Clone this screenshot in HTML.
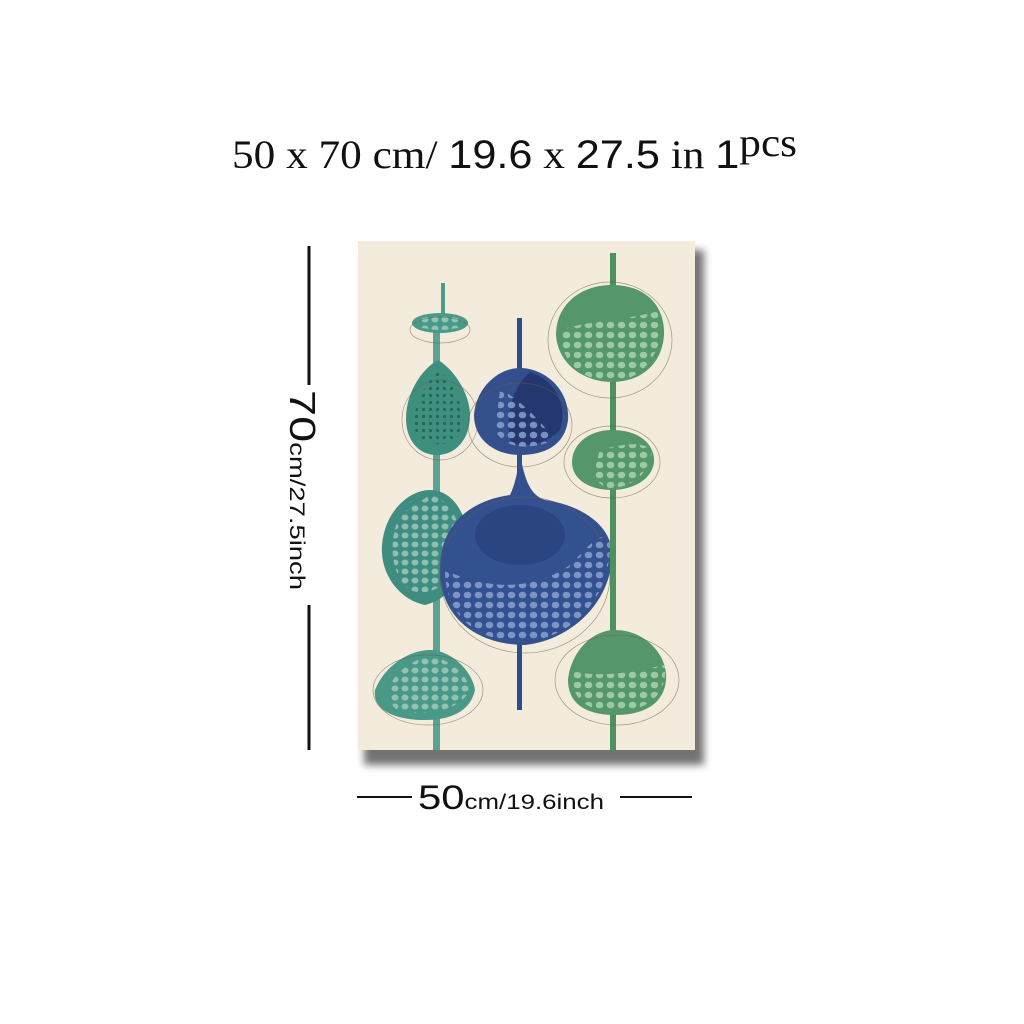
<!DOCTYPE html>
<html><head><meta charset="utf-8"><style>
html,body{margin:0;padding:0;background:#fff;width:1024px;height:1024px;overflow:hidden}
svg{display:block}
</style></head><body>
<svg width="1024" height="1024" viewBox="0 0 1024 1024">
<defs>
<pattern id="dotsL" width="10" height="9" patternUnits="userSpaceOnUse"><ellipse cx="5" cy="4.5" rx="3.5" ry="3" fill="#a9d0c0" opacity="0.75"/></pattern>
<pattern id="dotsB" width="11" height="10" patternUnits="userSpaceOnUse"><ellipse cx="5.5" cy="5" rx="3.8" ry="3.3" fill="#8fa6d4" opacity="0.8"/></pattern>
<pattern id="dotsG" width="11" height="10" patternUnits="userSpaceOnUse"><ellipse cx="5.5" cy="5" rx="3.8" ry="3.3" fill="#a8d2ad" opacity="0.85"/></pattern>
<pattern id="dotsD" width="7" height="7" patternUnits="userSpaceOnUse"><circle cx="3.5" cy="3.5" r="1.6" fill="#23695a"/></pattern>
<filter id="blur" x="-10%" y="-10%" width="120%" height="120%"><feGaussianBlur stdDeviation="4"/></filter>
</defs>
<text x="232" y="168" font-family="Liberation Serif, serif" font-size="40" fill="#111" textLength="565" lengthAdjust="spacingAndGlyphs">50 x 70 cm/ <tspan font-family="Liberation Sans, sans-serif">19.6</tspan> x <tspan font-family="Liberation Sans, sans-serif">27.5</tspan> in <tspan font-family="Liberation Sans, sans-serif">1</tspan><tspan dy="-12">pcs</tspan></text>
<g>
<line x1="309" y1="246" x2="309" y2="385" stroke="#111" stroke-width="3"/>
<line x1="309" y1="605" x2="309" y2="750" stroke="#111" stroke-width="3"/>
<text transform="translate(290,390) rotate(90)" font-family="Liberation Sans, sans-serif" font-size="36" fill="#111" textLength="200" lengthAdjust="spacingAndGlyphs">70<tspan font-size="21">cm/27.5inch</tspan></text>
</g>
<g>
<line x1="357" y1="797" x2="412" y2="797" stroke="#111" stroke-width="2"/>
<line x1="620" y1="797" x2="692" y2="797" stroke="#111" stroke-width="2"/>
<text x="418" y="809" font-family="Liberation Sans, sans-serif" font-size="34" fill="#111" textLength="186" lengthAdjust="spacingAndGlyphs">50<tspan font-size="21">cm/19.6inch</tspan></text>
</g>
<rect x="364" y="250" width="340" height="515" fill="#444" opacity="0.75" filter="url(#blur)"/>
<g>
<rect x="358" y="241" width="337" height="509" fill="#f3ecdc"/>
<rect x="441" y="283" width="4" height="45" fill="#4f9c8d"/>
<rect x="433" y="330" width="7" height="420" fill="#5aa393"/>
<ellipse cx="440" cy="323" rx="28" ry="10" fill="#4a9a8a"/>
<ellipse cx="440" cy="323" rx="24" ry="7" fill="url(#dotsL)"/>
<path d="M438 360 C455 370 470 395 470 415 C470 440 455 455 437 455 C418 455 406 440 406 418 C406 395 420 370 438 360Z" fill="#3f8f7f"/>
<path d="M438 370 C450 380 465 400 462 430 C455 448 425 450 415 430 C410 410 425 385 438 370Z" fill="url(#dotsD)"/>
<path d="M430 490 C450 490 468 510 468 545 C468 580 445 600 425 605 C400 600 380 575 382 545 C385 510 410 490 430 490Z" fill="#3f8c80"/>
<path d="M430 495 C450 500 462 520 460 550 C455 585 430 598 410 590 C390 575 388 540 400 515Z" fill="url(#dotsL)"/>
<path d="M430 650 C450 650 472 670 475 690 C470 712 450 720 425 720 C395 720 372 710 375 690 C385 665 410 650 430 650Z" fill="#4a9888"/>
<path d="M430 655 C450 660 468 675 470 690 C460 710 430 716 400 712 C380 700 385 670 430 655Z" fill="url(#dotsL)"/>
<rect x="517" y="318" width="5" height="80" fill="#2b4f8a"/>
<rect x="517" y="450" width="5" height="260" fill="#2b4f8a"/>
<path d="M520 368 C545 368 570 390 568 420 C565 445 545 455 520 455 C495 455 474 440 474 415 C476 388 498 368 520 368Z" fill="#33508c"/>
<path d="M530 372 C555 380 568 405 560 430 C545 445 520 450 510 440 C505 410 515 385 530 372Z" fill="#24376e"/>
<path d="M500 390 C515 395 540 420 555 440 C530 450 505 450 495 430Z" fill="url(#dotsB)"/>
<path d="M520 455 C525 480 530 495 545 500 C580 505 615 525 612 560 C608 605 570 640 525 645 C480 645 440 620 440 570 C440 520 475 500 510 495 C515 485 518 470 520 455Z" fill="#34518f"/>
<ellipse cx="520" cy="535" rx="45" ry="30" fill="#26407a" opacity="0.7"/>
<path d="M445 570 C465 580 520 600 570 565 C590 545 600 530 610 540 C612 600 570 640 520 642 C470 640 445 610 445 570Z" fill="url(#dotsB)"/>
<rect x="610" y="253" width="6" height="497" fill="#4f9060"/>
<path d="M612 285 C645 285 665 305 664 335 C662 365 640 382 612 382 C585 382 558 365 556 335 C556 305 580 285 612 285Z" fill="#55976a"/>
<path d="M560 330 C590 320 630 320 662 310 C665 350 645 380 612 382 C580 380 560 360 560 330Z" fill="url(#dotsG)"/>
<path d="M612 430 C640 430 655 445 654 462 C652 480 632 490 612 490 C590 490 572 480 572 462 C572 445 588 430 612 430Z" fill="#55976a"/>
<path d="M600 450 C620 445 640 440 652 450 C650 475 630 488 610 488 C590 485 595 465 600 450Z" fill="url(#dotsG)"/>
<path d="M615 630 C645 630 668 655 666 680 C664 705 642 715 615 715 C588 715 568 705 568 680 C570 655 590 630 615 630Z" fill="#55976a"/>
<path d="M570 670 C600 680 640 670 665 665 C668 700 640 712 615 712 C590 712 570 700 570 670Z" fill="url(#dotsG)"/>
<g fill="none" stroke="#6b5a4a" stroke-width="0.7" opacity="0.6">
<ellipse cx="440" cy="330" rx="30" ry="13"/><ellipse cx="440" cy="420" rx="38" ry="40"/>
<ellipse cx="610" cy="340" rx="62" ry="58"/><ellipse cx="612" cy="462" rx="48" ry="36"/>
<ellipse cx="617" cy="680" rx="62" ry="45"/><ellipse cx="520" cy="425" rx="52" ry="42"/>
<ellipse cx="525" cy="575" rx="85" ry="78"/><ellipse cx="428" cy="690" rx="55" ry="35"/>
</g>
</g>
</svg>
</body></html>
